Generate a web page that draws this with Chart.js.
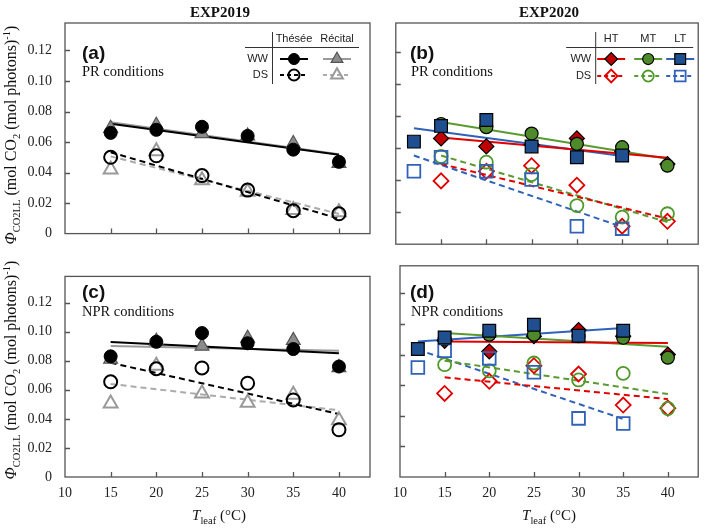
<!DOCTYPE html>
<html>
<head>
<meta charset="utf-8">
<script src="https://cdn.jsdelivr.net/npm/chart.js@4"></script>
<style>
  body { margin: 0; background: #fff; width: 709px; height: 531px; position: relative; overflow: hidden; font-family: "Liberation Serif", serif; color: #111; }
  canvas { position: absolute; }
  .txt { position: absolute; white-space: nowrap; line-height: 1; }
  .head { font: bold 15px "Liberation Serif"; transform: translate(-50%, -50%); }
  .lab { font: bold 19px "Liberation Sans"; }
  .cond { font: 14.5px "Liberation Serif"; }
  .xt { font: 15px "Liberation Serif"; transform: translate(-50%, -50%); }
  .yt { font: 16px "Liberation Serif"; transform: translate(-50%, -50%) rotate(-90deg); }
  sub, sup { font-size: 10.5px; line-height: 0; }
</style>
</head>
<body>
<canvas id="pa" style="left:0;top:0" width="380" height="255"></canvas>
<canvas id="pb" style="left:385px;top:0" width="324" height="255"></canvas>
<canvas id="pc" style="left:0;top:255px" width="380" height="276"></canvas>
<canvas id="pd" style="left:385px;top:255px" width="324" height="276"></canvas>

<div class="txt head" style="left:220px;top:12px">EXP2019</div>
<div class="txt head" style="left:549px;top:12px">EXP2020</div>

<div class="txt lab" style="left:82px;top:42px">(a)</div>
<div class="txt cond" style="left:82px;top:63px">PR conditions</div>
<div class="txt lab" style="left:410px;top:42px">(b)</div>
<div class="txt cond" style="left:411px;top:63px">PR conditions</div>
<div class="txt lab" style="left:82px;top:281px">(c)</div>
<div class="txt cond" style="left:82px;top:303px">NPR conditions</div>
<div class="txt lab" style="left:410px;top:281px">(d)</div>
<div class="txt cond" style="left:411px;top:303px">NPR conditions</div>

<div class="txt yt" style="left:11px;top:135px"><i>Φ</i><sub>CO2LL</sub> (mol CO<sub>2</sub> (mol photons)<sup>-1</sup>)</div>
<div class="txt yt" style="left:11px;top:370px"><i>Φ</i><sub>CO2LL</sub> (mol CO<sub>2</sub> (mol photons)<sup>-1</sup>)</div>
<div class="txt xt" style="left:219px;top:515px"><i>T</i><sub>leaf</sub> (°C)</div>
<div class="txt xt" style="left:549px;top:515px"><i>T</i><sub>leaf</sub> (°C)</div>

<script>
// data
const temps = [15, 20, 25, 30, 35, 40];
const tempsLT = [12, 15, 20, 25, 30, 35];
const fitX = [15, 40];
const fitXLT = [12, 35];

// (a) EXP2019, PR conditions
const aTheseeWW = [0.066, 0.068, 0.070, 0.064, 0.055, 0.047];
const aRecitalWW = [0.069, 0.071, 0.0655, 0.064, 0.059, 0.046];
const aTheseeDS = [0.050, 0.051, 0.038, 0.0285, 0.015, 0.013];
const aRecitalDS = [0.042, 0.054, 0.035, 0.0275, 0.0155, 0.014];
const aFitTheseeWW = [0.072, 0.0516];
const aFitRecitalWW = [0.073, 0.052];
const aFitTheseeDS = [0.0533, 0.0098];
const aFitRecitalDS = [0.0506, 0.0129];

// (b) EXP2020, PR conditions
const bHTWW = [0.066, 0.061, 0.062, 0.066, 0.058, 0.050];
const bMTWW = [0.075, 0.073, 0.069, 0.0626, 0.0605, 0.049];
const bLTWW = [0.064, 0.0738, 0.0775, 0.061, 0.0543, 0.0553];
const bHTDS = [0.0395, 0.0455, 0.049, 0.0368, 0.0112, 0.0143];
const bMTDS = [0.0547, 0.0512, 0.0434, 0.0241, 0.0169, 0.019];
const bLTDS = [0.0455, 0.0543, 0.0455, 0.0403, 0.0112, 0.0097];
const bFitHTWW = [0.0666, 0.054];
const bFitMTWW = [0.0763, 0.0533];
const bFitLTWW = [0.0724, 0.055];
const bFitHTDS = [0.050, 0.016];
const bFitMTDS = [0.0553, 0.0138];
const bFitLTDS = [0.0553, 0.0108];

// (c) EXP2019, NPR conditions
const cTheseeWW = [0.083, 0.093, 0.099, 0.092, 0.088, 0.076];
const cRecitalWW = [0.081, 0.0935, 0.090, 0.0955, 0.094, 0.0753];
const cTheseeDS = [0.0655, 0.0745, 0.075, 0.0645, 0.053, 0.0325];
const cRecitalDS = [0.0505, 0.0765, 0.0575, 0.051, 0.0565, 0.039];
const cFitTheseeWW = [0.0928, 0.0851];
const cFitRecitalWW = [0.0902, 0.0869];
const cFitTheseeDS = [0.0786, 0.0433];
const cFitRecitalDS = [0.064, 0.0459];

// (d) EXP2020, NPR conditions
const dHTWW = [0.089, 0.082, 0.092, 0.096, 0.092, 0.080];
const dMTWW = [0.090, 0.093, 0.093, 0.092, 0.091, 0.078];
const dLTWW = [0.0836, 0.0912, 0.0956, 0.0995, 0.0923, 0.0956];
const dHTDS = [0.0546, 0.0625, 0.0727, 0.0673, 0.047, 0.045];
const dMTDS = [0.0734, 0.0694, 0.0745, 0.0634, 0.0677, 0.0448];
const dLTDS = [0.0716, 0.0825, 0.0775, 0.0684, 0.0383, 0.035];
const dFitHTWW = [0.0886, 0.0875];
const dFitMTWW = [0.0941, 0.0851];
const dFitLTWW = [0.0886, 0.0973];
const dFitHTDS = [0.0651, 0.0509];
const dFitMTDS = [0.076, 0.0542];
const dFitLTDS = [0.0832, 0.0379];

const cultivars = ["Thésée", "Récital"];
const regimes = ["HT", "MT", "LT"];
const waterRows = ["WW", "DS"];
const yTicks = [0, 0.02, 0.04, 0.06, 0.08, 0.10, 0.12];

// marker / line styles
const st = {
  theseeWW: { shape: "circle", r: 6.5, fill: "#000", edge: "#000", bw: 1, line: "#000", dash: false, order: 2 },
  recitalWW: { shape: "triangle", r: 8, fill: "#8c8c8c", edge: "#555", bw: 1.2, line: "#9a9a9a", dash: false, order: 3 },
  theseeDS: { shape: "circle", r: 6.5, fill: "rgba(0,0,0,0)", edge: "#000", bw: 2, line: "#000", dash: true, order: 2 },
  recitalDS: { shape: "triangle", r: 8, fill: "rgba(0,0,0,0)", edge: "#9a9a9a", bw: 2, line: "#ababab", dash: true, order: 3 },
  HTWW: { shape: "rectRot", r: 7.5, fill: "#c00000", edge: "#000", bw: 1.2, line: "#e00000", dash: false, order: 4 },
  MTWW: { shape: "circle", r: 6.5, fill: "#4e8a2a", edge: "#000", bw: 1.2, line: "#5a9a30", dash: false, order: 3 },
  LTWW: { shape: "rect", r: 9, fill: "#1f4f8f", edge: "#000", bw: 1.2, line: "#2f62b8", dash: false, order: 2 },
  HTDS: { shape: "rectRot", r: 7.5, fill: "rgba(0,0,0,0)", edge: "#e00000", bw: 1.8, line: "#e00000", dash: true, order: 4 },
  MTDS: { shape: "circle", r: 6.5, fill: "rgba(0,0,0,0)", edge: "#4e9a2a", bw: 1.8, line: "#5a9a30", dash: true, order: 3 },
  LTDS: { shape: "rect", r: 9, fill: "rgba(0,0,0,0)", edge: "#2f62b8", bw: 1.8, line: "#2f62b8", dash: true, order: 2 },
};

function pts(xs, ys, s) {
  return {
    data: xs.map((x, i) => ({ x: x, y: ys[i] })),
    showLine: false,
    pointStyle: s.shape,
    pointRadius: s.r,
    pointHoverRadius: s.r,
    backgroundColor: s.fill,
    borderColor: s.edge,
    borderWidth: s.bw,
    order: s.order,
  };
}
function fit(xs, ys, s) {
  return {
    data: xs.map((x, i) => ({ x: x, y: ys[i] })),
    showLine: true,
    pointRadius: 0,
    borderColor: s.line,
    borderWidth: 2,
    borderDash: s.dash ? [6, 4] : [],
    order: 20,
  };
}

// box + inward ticks
const frame = {
  id: "frame",
  afterDraw(chart) {
    const { ctx, chartArea: a, scales: { x, y } } = chart;
    ctx.save();
    ctx.strokeStyle = "#555";
    ctx.lineWidth = 1.3;
    ctx.strokeRect(a.left, a.top, a.right - a.left, a.bottom - a.top);
    ctx.beginPath();
    x.ticks.forEach((t) => {
      if (t.value <= x.min || t.value >= x.max) return;
      const px = Math.round(x.getPixelForValue(t.value)) + 0.5;
      ctx.moveTo(px, a.bottom);
      ctx.lineTo(px, a.bottom - 5);
    });
    y.ticks.forEach((t) => {
      if (t.value <= y.min || t.value >= y.max) return;
      const py = Math.round(y.getPixelForValue(t.value)) + 0.5;
      ctx.moveTo(a.left, py);
      ctx.lineTo(a.left + 5, py);
    });
    ctx.stroke();
    ctx.restore();
  },
};

// table legend in the top-right corner
const tableLegend = {
  id: "tableLegend",
  afterDraw(chart, args, o) {
    if (!o.cols) return;
    const { ctx, chartArea: { right, top } } = chart;
    ctx.save();
    ctx.strokeStyle = "#333";
    ctx.lineWidth = 1;
    ctx.beginPath();
    ctx.moveTo(right - o.vx + 0.5, top + 9);
    ctx.lineTo(right - o.vx + 0.5, top + 61);
    ctx.moveTo(right - o.hx0, top + 24.5);
    ctx.lineTo(right - o.hx1, top + 24.5);
    ctx.stroke();
    ctx.font = '11px "Liberation Sans"';
    ctx.fillStyle = "#222";
    ctx.textBaseline = "middle";
    ctx.textAlign = "center";
    o.cols.forEach((c, i) => ctx.fillText(c, right - o.colX[i], top + 16));
    ctx.textAlign = "right";
    o.rows.forEach((r, j) => ctx.fillText(r, right - o.vx - 4, top + o.rowY[j]));
    o.items.forEach((it) => {
      const line = chart.data.datasets[it.line];
      const pt = chart.data.datasets[it.point];
      const cx = right - o.colX[it.col];
      const cy = top + o.rowY[it.row];
      ctx.save();
      ctx.strokeStyle = line.borderColor;
      ctx.lineWidth = line.borderWidth;
      ctx.setLineDash(line.borderDash.length ? [4, 3] : []);
      ctx.beginPath();
      ctx.moveTo(cx - 14, cy);
      ctx.lineTo(cx + 14, cy);
      ctx.stroke();
      ctx.restore();
      ctx.save();
      ctx.fillStyle = pt.backgroundColor;
      ctx.strokeStyle = pt.borderColor;
      ctx.lineWidth = pt.borderWidth;
      Chart.helpers.drawPoint(ctx, { pointStyle: pt.pointStyle, radius: pt.pointRadius * 0.85, borderWidth: pt.borderWidth, rotation: 0 }, cx, cy);
      ctx.restore();
    });
    ctx.restore();
  },
};

const tickFont = { family: "Liberation Serif", size: 14 };

function panel(id, datasets, o) {
  return new Chart(document.getElementById(id), {
    type: "scatter",
    data: { datasets: datasets },
    options: {
      responsive: false,
      animation: false,
      events: [],
      layout: { padding: { left: 0, top: o.top, right: o.right, bottom: 0 } },
      plugins: {
        legend: { display: false },
        tooltip: { enabled: false },
        tableLegend: o.legend || {},
      },
      scales: {
        x: {
          type: "linear",
          min: 10,
          max: 43.4,
          grid: { display: false, drawTicks: false },
          border: { display: false },
          ticks: { stepSize: 5, includeBounds: false, display: o.xLabels, font: tickFont, color: "#222", padding: 8 },
          afterFit: (s) => { s.height = o.xH; },
        },
        y: {
          min: 0,
          max: 0.138,
          grid: { display: false, drawTicks: false },
          border: { display: false },
          afterBuildTicks: (s) => { s.ticks = yTicks.map((v) => ({ value: v })); },
          ticks: {
            display: o.yLabels,
            font: tickFont,
            color: "#222",
            padding: 13,
            callback: (v) => (v === 0 ? "0" : v.toFixed(2)),
          },
          afterFit: (s) => { s.width = o.yW; },
        },
      },
    },
    plugins: [frame, tableLegend],
  });
}

// datasets: 0 WW pts A, 1 WW pts B, 2 DS pts A, 3 DS pts B, then fits
function set2019(tWW, rWW, tDS, rDS, ftWW, frWW, ftDS, frDS) {
  return [
    pts(temps, tWW, st.theseeWW),
    pts(temps, rWW, st.recitalWW),
    pts(temps, tDS, st.theseeDS),
    pts(temps, rDS, st.recitalDS),
    fit(fitX, ftWW, st.theseeWW),
    fit(fitX, frWW, st.recitalWW),
    fit(fitX, ftDS, st.theseeDS),
    fit(fitX, frDS, st.recitalDS),
  ];
}
function set2020(hWW, mWW, lWW, hDS, mDS, lDS, fh, fm, fl, fhd, fmd, fld) {
  return [
    pts(temps, hWW, st.HTWW),
    pts(temps, mWW, st.MTWW),
    pts(tempsLT, lWW, st.LTWW),
    pts(temps, hDS, st.HTDS),
    pts(temps, mDS, st.MTDS),
    pts(tempsLT, lDS, st.LTDS),
    fit(fitX, fh, st.HTWW),
    fit(fitX, fm, st.MTWW),
    fit(fitXLT, fl, st.LTWW),
    fit(fitX, fhd, st.HTDS),
    fit(fitX, fmd, st.MTDS),
    fit(fitXLT, fld, st.LTDS),
  ];
}

const legend2019 = {
  cols: cultivars, rows: waterRows, vx: 98, hx0: 125, hx1: 11,
  colX: [76, 33], rowY: [36, 52],
  items: [
    { col: 0, row: 0, point: 0, line: 4 },
    { col: 1, row: 0, point: 1, line: 5 },
    { col: 0, row: 1, point: 2, line: 6 },
    { col: 1, row: 1, point: 3, line: 7 },
  ],
};
const legend2020 = {
  cols: regimes, rows: waterRows, vx: 103, hx0: 132, hx1: 5,
  colX: [87, 50, 18], rowY: [36, 53],
  items: [
    { col: 0, row: 0, point: 0, line: 6 },
    { col: 1, row: 0, point: 1, line: 7 },
    { col: 2, row: 0, point: 2, line: 8 },
    { col: 0, row: 1, point: 3, line: 9 },
    { col: 1, row: 1, point: 4, line: 10 },
    { col: 2, row: 1, point: 5, line: 11 },
  ],
};

panel("pa", set2019(aTheseeWW, aRecitalWW, aTheseeDS, aRecitalDS, aFitTheseeWW, aFitRecitalWW, aFitTheseeDS, aFitRecitalDS),
  { top: 23, right: 7, xH: 5, yW: 65, xLabels: false, yLabels: true, legend: legend2019 });
panel("pb", set2020(bHTWW, bMTWW, bLTWW, bHTDS, bMTDS, bLTDS, bFitHTWW, bFitMTWW, bFitLTWW, bFitHTDS, bFitMTDS, bFitLTDS),
  { top: 23, right: 4, xH: 5, yW: 8, xLabels: false, yLabels: false, legend: legend2020 });
panel("pc", set2019(cTheseeWW, cRecitalWW, cTheseeDS, cRecitalDS, cFitTheseeWW, cFitRecitalWW, cFitTheseeDS, cFitRecitalDS),
  { top: 10, right: 7, xH: 54, yW: 65, xLabels: true, yLabels: true });
panel("pd", set2020(dHTWW, dMTWW, dLTWW, dHTDS, dMTDS, dLTDS, dFitHTWW, dFitMTWW, dFitLTWW, dFitHTDS, dFitMTDS, dFitLTDS),
  { top: 10, right: 4, xH: 54, yW: 8, xLabels: true, yLabels: false });
</script>
</body>
</html>
